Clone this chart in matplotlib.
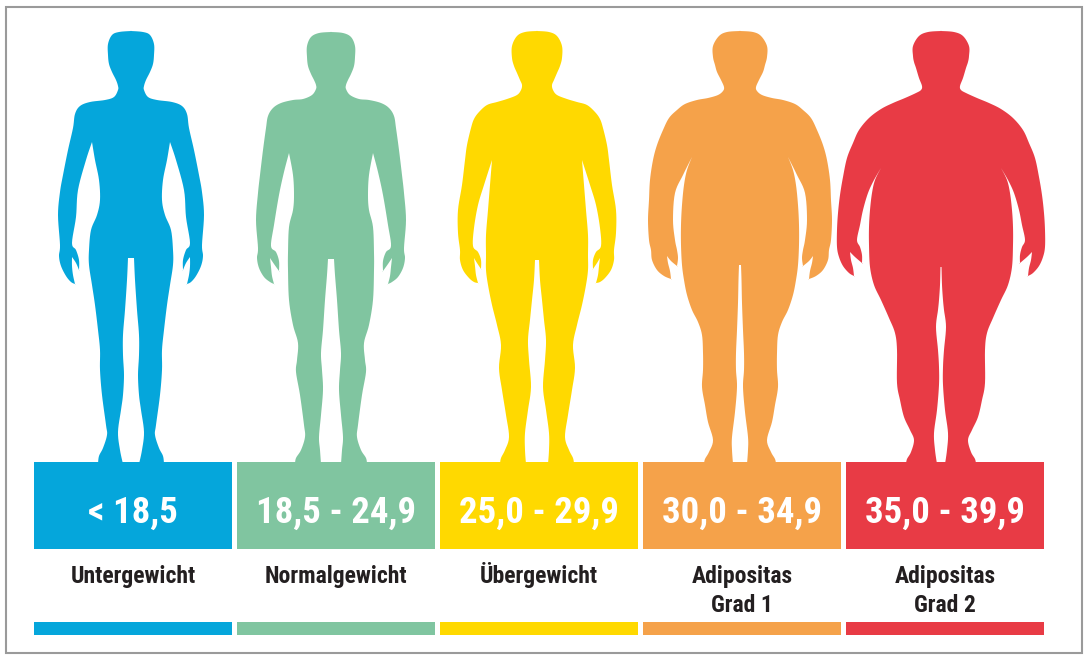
import numpy as np
import matplotlib
matplotlib.use('Agg')
import matplotlib.pyplot as plt
from matplotlib import font_manager
from matplotlib.patches import Polygon, Rectangle

# BMI-Klassen
ranges = ['< 18,5', '18,5 - 24,9', '25,0 - 29,9', '30,0 - 34,9', '35,0 - 39,9']
labels = ['Untergewicht', 'Normalgewicht', 'Übergewicht', 'Adipositas\nGrad 1', 'Adipositas\nGrad 2']
colors = ['#05A6DB', '#80C5A0', '#FFD900', '#F5A24A', '#E83B45']

# Silhouetten: linke Körperhälfte als (Abstand zur Mitte, y) in Pixeln,
# vom Scheitel bis zum Schritt. C = Ecke -> Punkt doppelt
C = 'corner'
shape_blue = [
    (0, 31), (12, 32), (19, 35), (23, 44), (23, 55), (22, 64), (19, 72), (15, 80), (13, 86), (13, 90),
    (17, 97), (26, 100), (41, 102), (51, 106), (56, 114), (58, 128), (63, 150), (68, 175), (71, 192),
    (73, 215), (71, 245),
    (72, 256), (70, 266), (65, 276), (60, 282), (56, 284, C), (58, 275), (59, 266), (59, 257, C),
    (55, 263), (52, 270, C), (52, 260), (55, 250), (59, 243),
    (55, 217), (53, 190), (45, 160), (39, 142, C),
    (36, 160), (32, 180), (31, 200), (34, 215), (40, 230), (42, 250),
    (42, 265), (39, 285), (36, 305), (33, 330), (31, 350), (31, 370), (29, 395), (25, 425), (24, 435),
    (28, 448), (32, 456), (33, 464, C),
    (8, 464, C), (11, 450), (13, 432), (10, 410), (8, 395), (7, 375), (8, 355), (8, 335), (6, 310),
    (4, 280), (3, 258, C),
]
shape_green = [
    (0, 32), (12, 33), (20, 37), (24, 46), (24, 57), (23, 66), (20, 74), (17, 80), (15, 85), (15, 89),
    (19, 95), (28, 99), (38, 100), (50, 103), (58, 108), (63, 116), (65, 128), (68, 150), (71, 175),
    (73, 193), (75, 220), (73, 248),
    (74, 258), (72, 268), (67, 277), (61, 282), (57, 284, C), (59, 276), (60, 267), (61, 258, C),
    (57, 264), (52, 271, C), (52, 261), (55, 252), (60, 246),
    (57, 225), (52, 195), (47, 172), (42, 153, C),
    (38, 175), (37, 195), (38, 210), (42, 227), (43, 253),
    (43, 270), (42, 300), (38, 325), (33, 343), (34, 360), (35, 372), (31, 395), (27, 425), (26, 437),
    (30, 450), (35, 458), (36, 464, C),
    (10, 464, C), (11, 450), (12, 437), (10, 415), (8, 390), (9, 370), (10, 353), (8, 330), (6, 300),
    (4, 275), (3, 259, C),
]
shape_yellow = [
    (0, 31), (12, 32), (20, 36), (25, 46), (25, 58), (23, 66), (20, 73), (17, 80), (15, 85), (16, 90),
    (20, 95), (30, 99), (40, 102), (50, 105), (58, 112), (63, 119), (66, 128), (70, 145), (72, 160),
    (75, 185), (79, 210), (79, 233), (77, 250),
    (77, 260), (74, 270), (68, 278), (63, 282), (59, 283, C), (61, 275), (62, 266), (63, 258, C),
    (60, 263), (56, 269, C), (56, 260), (59, 252), (64, 246),
    (63, 228), (59, 205), (53, 185), (45, 160, C),
    (47, 185), (49, 210), (51, 235), (51, 255),
    (51, 270), (49, 285), (45, 305), (40, 325), (36, 345), (38, 368), (35, 390), (31, 415), (28, 437),
    (32, 450), (36, 458), (37, 464, C),
    (11, 464, C), (12, 450), (12, 433), (9, 410), (6, 387), (8, 360), (9, 340), (7, 320), (5, 300),
    (3, 280), (2, 260, C),
]
shape_orange = [
    (0, 31), (13, 32), (21, 36), (27, 46), (27, 57), (25, 65), (23, 72), (19, 80), (16, 87), (17, 91),
    (22, 95), (32, 98), (43, 100), (55, 104), (63, 110), (71, 118), (77, 130), (83, 145), (87, 160),
    (90, 180), (91, 200), (92, 220), (91, 240), (89, 250),
    (88, 260), (83, 270), (76, 276), (69, 279, C), (70, 271), (72, 263), (73, 256, C),
    (69, 261), (63, 266, C), (62, 258), (63, 250), (65, 240),
    (67, 220), (65, 193), (57, 175), (48, 157, C),
    (53, 170), (56, 185), (58, 205), (59, 225), (59, 245), (58, 265), (56, 280),
    (53, 295), (48, 310), (42, 322), (38, 335), (37, 353), (37, 370), (38, 387), (35, 405), (32, 422),
    (27, 440), (31, 452), (35, 459), (36, 464, C),
    (7, 464, C), (8, 450), (8, 437), (5, 412), (3, 387), (4, 370), (4, 353), (3, 330), (2, 303),
    (1.5, 280), (1, 265, C),
]
shape_red = [
    (0, 31), (13, 32), (22, 36), (28, 46), (28, 56), (27, 62), (25, 68), (22, 78), (19, 86), (20, 90),
    (25, 93), (36, 98), (48, 103), (60, 109), (72, 118), (82, 130), (88, 143), (94, 158), (98, 177),
    (101, 195), (103, 213), (104, 230), (104, 247),
    (102, 257), (98, 266), (92, 273), (87, 276, C), (88, 268), (90, 260), (91, 252, C),
    (86, 257), (79, 263, C), (79, 255), (81, 247), (84, 240),
    (81, 225), (78, 210), (73, 193), (67, 180), (60, 168, C),
    (66, 180), (69, 193), (71, 210), (72, 227), (72, 245), (71, 267), (67, 285), (60, 300),
    (52, 318), (46, 333), (44, 350), (44, 383), (41, 400), (37, 417), (31, 430), (27, 440),
    (30, 452), (34, 459), (35, 464, C),
    (4, 464, C), (6, 450), (7, 433), (4, 410), (2, 385), (2, 367), (3, 350), (5, 327), (3, 310),
    (2, 300), (1, 285), (0.5, 267, C),
]
shapes = [shape_blue, shape_green, shape_yellow, shape_orange, shape_red]
shifts = [-2, -5, -2, -2, -4]

PITCH = 203.0       # Pixel pro Kategorie
X0 = 133.0          # Mitte der ersten Box in Pixeln


def pick_font(cands, fallback='DejaVu Sans'):
    names = {f.name for f in font_manager.fontManager.ttflist}
    for c in cands:
        if c in names:
            return c
    return fallback


FONT = pick_font(['Liberation Sans Narrow', 'Roboto Condensed', 'Open Sans Condensed',
                  'Liberation Sans', 'Roboto'])


def outline(half):
    left = []
    for p in half:
        left.append((-p[0], p[1]))
        if len(p) > 2:
            left.append((-p[0], p[1]))
    right = [(-x, y) for x, y in left[::-1]]
    return np.array(left + right, dtype=float)


def catmull(pts, n=6):
    P = np.vstack([pts[-1], pts, pts[0], pts[1]])
    t = np.linspace(0, 1, n, endpoint=False)[:, None]
    out = []
    for i in range(1, len(P) - 2):
        p0, p1, p2, p3 = P[i - 1], P[i], P[i + 1], P[i + 2]
        out.append(0.5 * (2 * p1 + (-p0 + p2) * t + (2 * p0 - 5 * p1 + 4 * p2 - p3) * t ** 2
                          + (-p0 + 3 * p1 - 3 * p2 + p3) * t ** 3))
    return np.vstack(out)


fig = plt.figure(figsize=(10.9, 6.59), dpi=100)
ax = fig.add_axes([0, 0, 1, 1])
ax.set_xlim(-X0 / PITCH, (1090 - X0) / PITCH)
ax.set_ylim(659, 0)
ax.axis('off')

idx = np.arange(len(ranges))

# Silhouetten
for i, (half, col) in enumerate(zip(shapes, colors)):
    pts = catmull(outline(half))
    xy = np.column_stack([i + (pts[:, 0] + shifts[i]) / PITCH, pts[:, 1]])
    ax.add_patch(Polygon(xy, closed=True, facecolor=col, edgecolor='none', zorder=2))

# Boxen und Streifen
bw = 198 / PITCH
ax.bar(idx, 549 - 462, bottom=462, width=bw, color=colors, zorder=3)
ax.bar(idx, 635 - 622, bottom=622, width=bw, color=colors, zorder=3)

for i in idx:
    ax.text(i, 523, ranges[i], ha='center', va='baseline', color='white',
            fontsize=26.5, fontweight='bold', family=[FONT, 'DejaVu Sans'], zorder=4)
    for j, line in enumerate(labels[i].split('\n')):
        ax.text(i, 583 + 29 * j, line, ha='center', va='baseline', color='#231F20',
                fontsize=17, fontweight='bold', family=[FONT, 'DejaVu Sans'], zorder=4)

# Rahmen
fig.patches.append(Rectangle((6 / 1090, 6 / 659), 1076 / 1090, 646 / 659, transform=fig.transFigure,
                             fill=False, edgecolor='#9A9A9A', linewidth=1.5))

fig.savefig('out.png', dpi=100, facecolor='white')
